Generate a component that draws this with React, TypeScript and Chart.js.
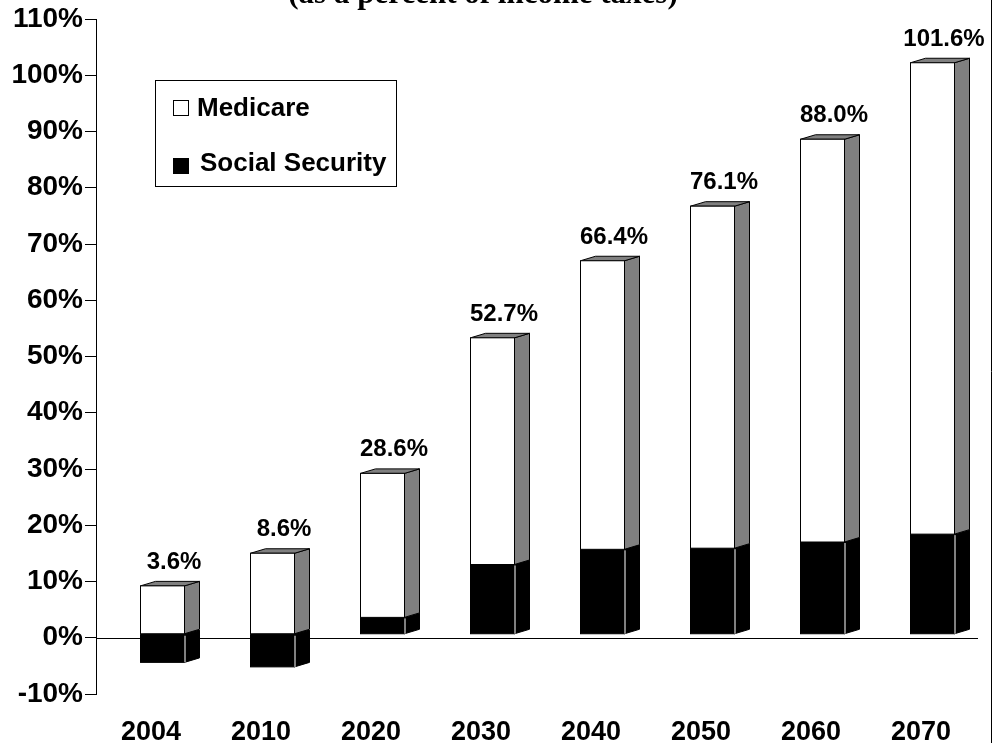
import React, { useEffect, useRef } from "react";
import { Chart, registerables } from "chart.js";

Chart.register(...registerables);

const years = ["2004", "2010", "2020", "2030", "2040", "2050", "2060", "2070"];
const socialSecurity = [-5.0, -5.8, 3.0, 12.4, 15.1, 15.3, 16.4, 17.8];
const medicare = [8.6, 14.4, 25.6, 40.3, 51.3, 60.8, 71.6, 83.8];
const legendLabels = ["Medicare", "Social Security"];
const titleText = "(as a percent of income taxes)";
const yMin = -10;
const yMax = 110;
const yStep = 10;

const SANS = "'Liberation Sans', Arial, sans-serif";
const SERIF = "'Liberation Serif', 'Times New Roman', serif";

const FRONT_SHIFT = 11;
const Y_SHIFT = -3.5;
const DX = 15;
const DY = 4.5;
const SIDE_GRAY = "#808080";

type Seg = { x: number; y: number; base: number; width: number };

function drawSegment(
  ctx: CanvasRenderingContext2D,
  el: Seg,
  fill: string,
  side: string,
  top: string,
  stroke: string,
  edge: string
) {
  const xl = Math.round(el.x - el.width / 2 + FRONT_SHIFT) + 0.5;
  const xr = Math.round(el.x + el.width / 2 + FRONT_SHIFT) + 0.5;
  const yA = Math.min(el.y, el.base) + Y_SHIFT;
  const yB = Math.max(el.y, el.base) + Y_SHIFT;
  ctx.save();
  ctx.lineWidth = 1;
  ctx.lineJoin = "miter";
  ctx.beginPath();
  ctx.moveTo(xr, yA);
  ctx.lineTo(xr + DX, yA - DY);
  ctx.lineTo(xr + DX, yB - DY);
  ctx.lineTo(xr, yB);
  ctx.closePath();
  ctx.fillStyle = side;
  ctx.fill();
  ctx.strokeStyle = stroke;
  ctx.stroke();
  ctx.beginPath();
  ctx.moveTo(xl, yA);
  ctx.lineTo(xl + DX, yA - DY);
  ctx.lineTo(xr + DX, yA - DY);
  ctx.lineTo(xr, yA);
  ctx.closePath();
  ctx.fillStyle = top;
  ctx.fill();
  ctx.strokeStyle = stroke;
  ctx.stroke();
  ctx.fillStyle = fill;
  ctx.fillRect(xl, yA, xr - xl, yB - yA);
  ctx.strokeStyle = stroke;
  ctx.strokeRect(xl, yA, xr - xl, yB - yA);
  if (edge !== stroke) {
    ctx.beginPath();
    ctx.moveTo(xr + 0.5, yA + 1);
    ctx.lineTo(xr + 0.5, yB);
    ctx.strokeStyle = edge;
    ctx.stroke();
  }
  ctx.restore();
}

const decorPlugin = {
  id: "decor3d",
  beforeDatasetsDraw(chart: any) {
    const ctx: CanvasRenderingContext2D = chart.ctx;
    const y0 = Math.round(chart.scales.y.getPixelForValue(0)) + 0.5;
    const { left, right } = chart.chartArea;
    ctx.save();
    ctx.strokeStyle = "#000";
    ctx.lineWidth = 1;
    ctx.beginPath();
    ctx.moveTo(left, y0);
    ctx.lineTo(right + 2, y0);
    ctx.stroke();
    ctx.restore();
  },
  afterDatasetsDraw(chart: any) {
    const ctx: CanvasRenderingContext2D = chart.ctx;
    const ssMeta = chart.getDatasetMeta(0);
    const mMeta = chart.getDatasetMeta(1);
    for (let i = 0; i < years.length; i++) {
      const ss = ssMeta.data[i] as any;
      const m = mMeta.data[i] as any;
      drawSegment(ctx, ss, "#000", "#000", "#000", "#000", "#fff");
      drawSegment(ctx, m, "#fff", SIDE_GRAY, SIDE_GRAY, "#000", "#000");
      const topY = Math.min(ss.y, ss.base, m.y, m.base) + Y_SHIFT;
      const total = medicare[i] + socialSecurity[i];
      ctx.save();
      ctx.fillStyle = "#000";
      ctx.font = `bold 24px ${SANS}`;
      ctx.textAlign = "center";
      ctx.textBaseline = "alphabetic";
      ctx.fillText(total.toFixed(1) + "%", m.x + 23, topY - 17);
      ctx.restore();
    }

    // legend
    ctx.save();
    ctx.fillStyle = "#fff";
    ctx.fillRect(155.5, 80.5, 241, 106);
    ctx.strokeStyle = "#000";
    ctx.lineWidth = 1;
    ctx.strokeRect(155.5, 80.5, 241, 106);
    ctx.fillStyle = "#fff";
    ctx.fillRect(173.5, 100.5, 15, 15);
    ctx.strokeRect(173.5, 100.5, 15, 15);
    ctx.fillStyle = "#000";
    ctx.fillRect(173.5, 158.5, 15, 15);
    ctx.strokeRect(173.5, 158.5, 15, 15);
    ctx.font = `bold 26px ${SANS}`;
    ctx.textAlign = "left";
    ctx.textBaseline = "alphabetic";
    ctx.fillText(legendLabels[0], 197, 116);
    ctx.fillText(legendLabels[1], 200, 171);
    ctx.restore();

    // title (cut off at top) and right frame
    ctx.save();
    ctx.fillStyle = "#000";
    ctx.font = `bold 31px ${SERIF}`;
    ctx.textAlign = "center";
    ctx.textBaseline = "alphabetic";
    ctx.fillText(titleText, 483, 3);
    ctx.strokeStyle = "#000";
    ctx.lineWidth = 1;
    ctx.beginPath();
    ctx.moveTo(991.5, 0);
    ctx.lineTo(991.5, 743);
    ctx.stroke();
    ctx.restore();
  },
};

export default function App() {
  const canvasRef = useRef<HTMLCanvasElement | null>(null);

  useEffect(() => {
    const canvas = canvasRef.current;
    if (!canvas) return;
    const chart = new Chart(canvas, {
      type: "bar",
      data: {
        labels: years,
        datasets: [
          {
            label: legendLabels[1],
            data: socialSecurity,
            backgroundColor: "rgba(0,0,0,0)",
            borderWidth: 0,
          },
          {
            label: legendLabels[0],
            data: medicare,
            backgroundColor: "rgba(0,0,0,0)",
            borderWidth: 0,
          },
        ],
      },
      options: {
        animation: false,
        responsive: false,
        devicePixelRatio: 1,
        layout: { padding: { top: 19, right: 19, left: 0, bottom: 0 } },
        plugins: {
          legend: { display: false },
          tooltip: { enabled: false },
          title: { display: false },
        },
        datasets: { bar: { barPercentage: 0.4, categoryPercentage: 1 } },
        scales: {
          x: {
            stacked: true,
            grid: { display: false, drawTicks: false },
            border: { display: false },
            ticks: {
              color: "#000",
              font: { family: SANS, size: 27, weight: "bold" },
              padding: 22,
              maxRotation: 0,
              autoSkip: false,
            },
            afterFit: (s: any) => {
              s.height = 49;
            },
          },
          y: {
            stacked: true,
            min: yMin,
            max: yMax,
            ticks: {
              stepSize: yStep,
              color: "#000",
              font: { family: SANS, size: 28, weight: "bold" },
              padding: 2,
              callback: (v: any) => `${v}%`,
            },
            grid: {
              drawOnChartArea: false,
              drawTicks: true,
              tickLength: 11,
              color: "#000",
              lineWidth: 1,
            },
            border: { display: true, color: "#000", width: 1 },
            afterFit: (s: any) => {
              s.width = 96;
            },
          },
        },
      },
      plugins: [decorPlugin],
    } as any);
    return () => chart.destroy();
  }, []);

  return (
    <div
      style={{
        position: "absolute",
        left: 0,
        top: 0,
        width: 995,
        height: 743,
        background: "#fff",
      }}
    >
      <canvas ref={canvasRef} width={995} height={743} />
    </div>
  );
}
